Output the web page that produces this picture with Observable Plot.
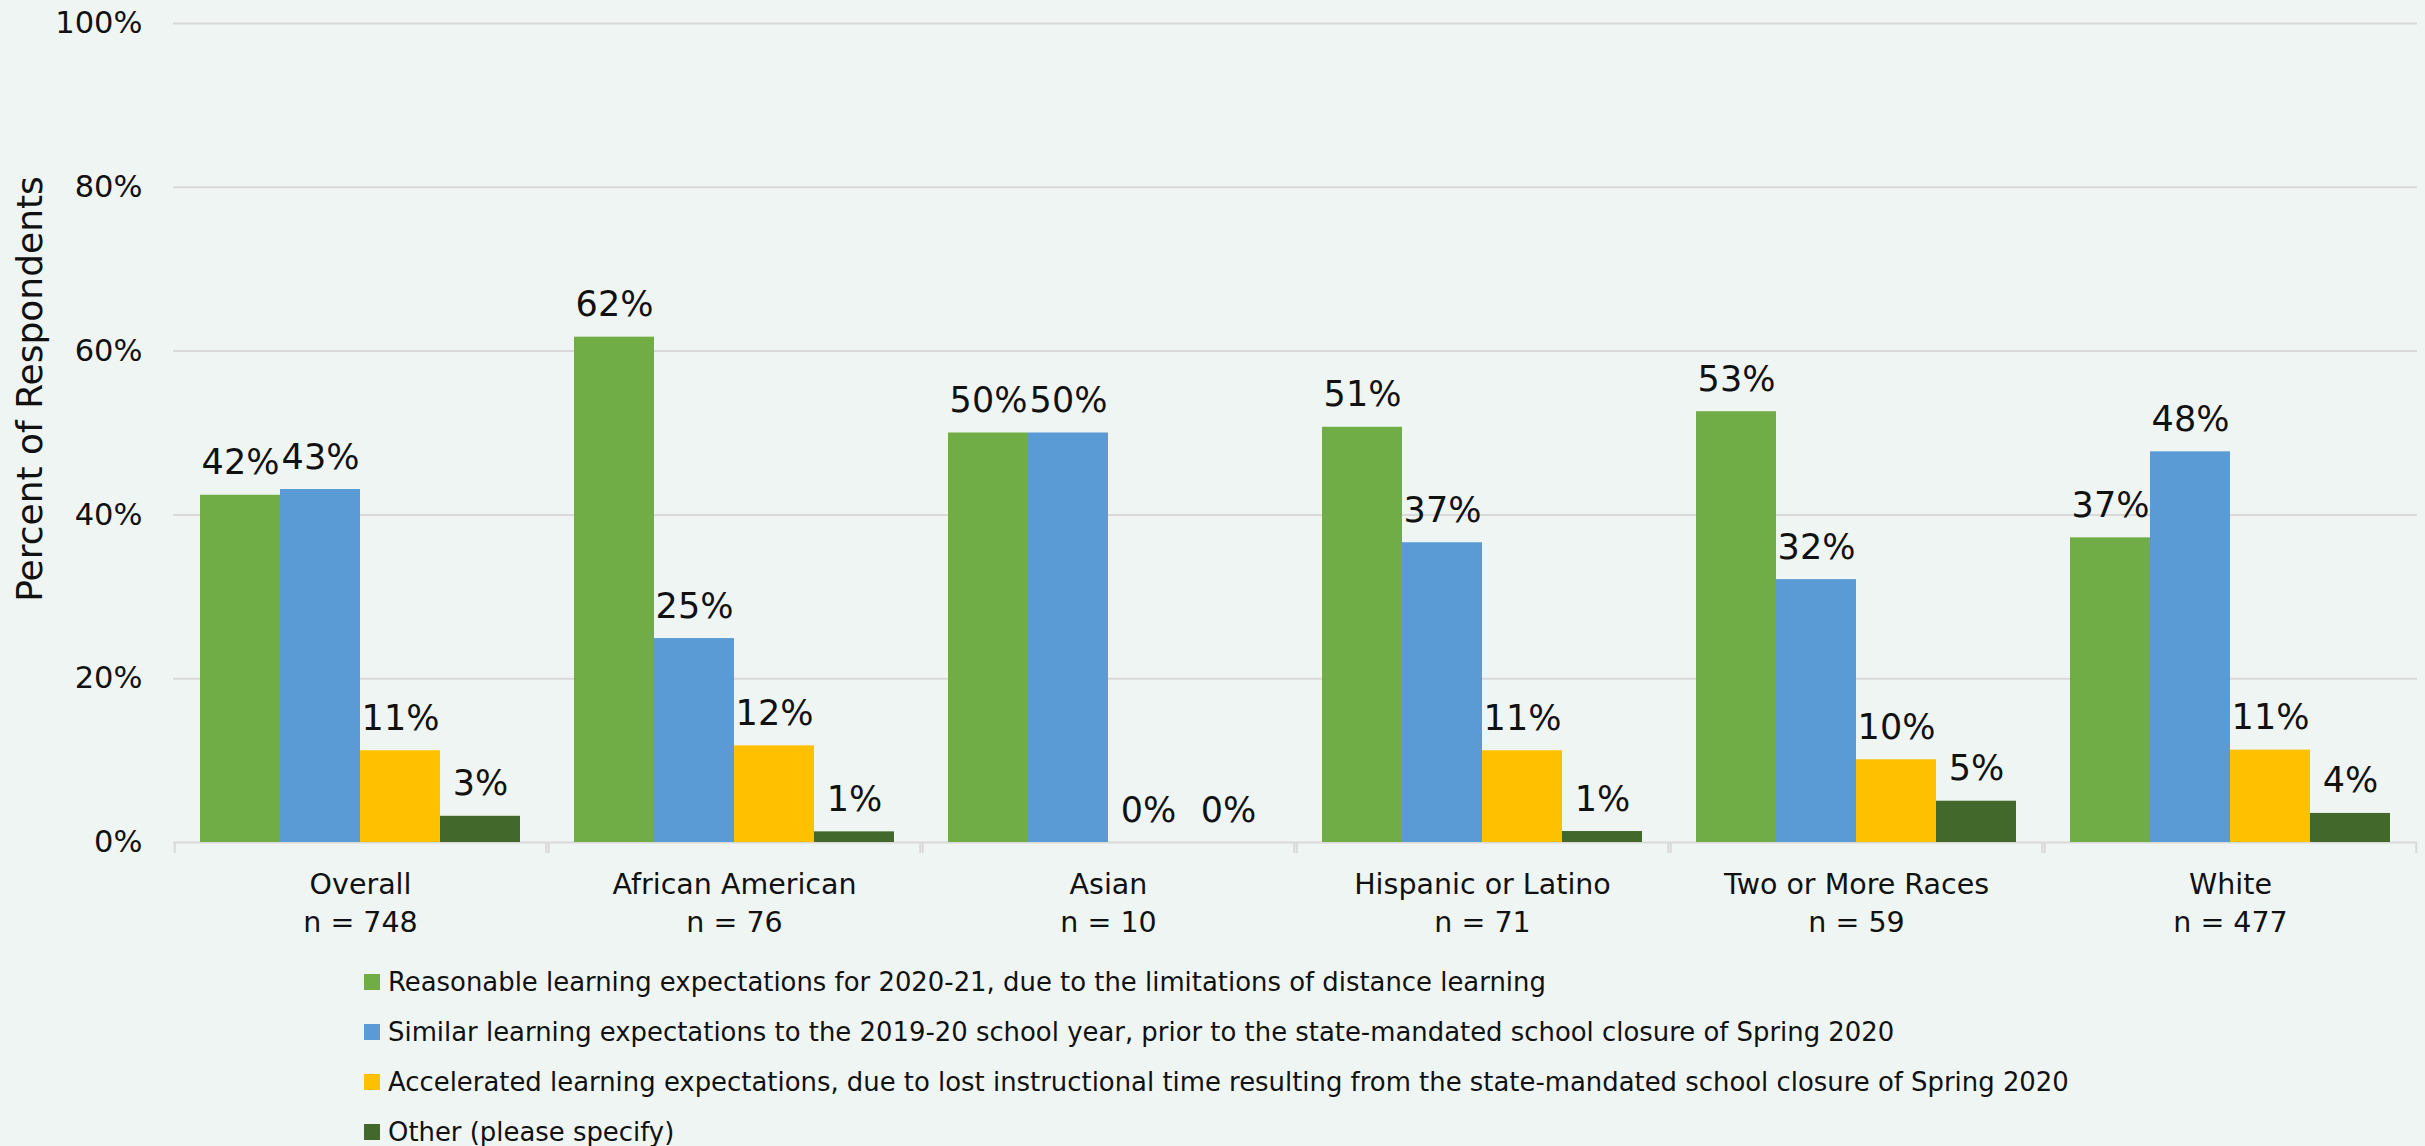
<!DOCTYPE html>
<html>
<head>
<meta charset="utf-8">
<script src="https://cdn.jsdelivr.net/npm/d3@7"></script>
<script src="https://cdn.jsdelivr.net/npm/@observablehq/plot@0.6"></script>
<style>
html, body { margin: 0; padding: 0; background: #eff5f2; overflow: hidden; width: 2425px; height: 1146px; }
#wrap { position: relative; width: 2425px; height: 1146px; font-family: "DejaVu Sans", sans-serif; color: #111; }
#chart svg { display: block; }
#ytitle { position: absolute; left: 29px; top: 389px; transform: translate(-50%, -50%) rotate(-90deg); font-size: 36px; white-space: nowrap; }
#legend { position: absolute; left: 364px; top: 957px; font-size: 25.9px; }
.row { height: 50px; display: flex; align-items: center; white-space: nowrap; }
.sw { width: 16px; height: 16px; margin-right: 8px; flex: none; }
</style>
</head>
<body>
<div id="wrap">
  <div id="chart"></div>
  <div id="ytitle">Percent of Respondents</div>
  <div id="legend"></div>
</div>
<script>
// ---- data ----
const categories = ["Overall", "African American", "Asian", "Hispanic or Latino", "Two or More Races", "White"];
const sampleSizes = [748, 76, 10, 71, 59, 477];
const seriesNames = [
  "Reasonable learning expectations for 2020-21, due to the limitations of distance learning",
  "Similar learning expectations to the 2019-20 school year, prior to the state-mandated school closure of Spring 2020",
  "Accelerated learning expectations, due to lost instructional time resulting from the state-mandated school closure of Spring 2020",
  "Other (please specify)"
];
const reasonable  = [0.424, 0.617, 0.500, 0.507, 0.526, 0.372];
const similar     = [0.431, 0.249, 0.500, 0.366, 0.321, 0.477];
const accelerated = [0.112, 0.118, 0.000, 0.112, 0.101, 0.1128];
const other       = [0.032, 0.013, 0.000, 0.0134, 0.0504, 0.0355];
const yTicks = [0, 0.2, 0.4, 0.6, 0.8, 1.0];
const colors = ["#70AD47", "#5B9BD5", "#FFC000", "#43682B"];

const seriesValues = [reasonable, similar, accelerated, other];
const table = categories.flatMap((c, i) =>
  seriesNames.map((s, j) => ({category: c, series: s, value: seriesValues[j][i]})));
const nByCat = new Map(categories.map((c, i) => [c, sampleSizes[i]]));

// ---- layout ----
const W = 2425, H = 957, mL = 171, mR = 7, mT = 23, mB = 115;
const xPadOuter = 0.312;
const fxStep = (W - mL - mR) / categories.length;
const xStep = fxStep / (seriesNames.length + 2 * xPadOuter);
const edgeOffset = xPadOuter * xStep + xStep / 2;
const pct = d3.format(".0%");
const gridColor = "#d9d9d9";

const chart = Plot.plot({
  width: W, height: H,
  marginLeft: mL, marginRight: mR, marginTop: mT, marginBottom: mB,
  style: {background: "transparent", fontFamily: "'DejaVu Sans', sans-serif", color: "#111"},
  fx: {domain: categories, padding: 0, label: null},
  x: {domain: seriesNames, paddingInner: 0, paddingOuter: xPadOuter, axis: null},
  y: {domain: [0, 1]},
  color: {domain: seriesNames, range: colors},
  marks: [
    Plot.gridY(yTicks.slice(1), {stroke: gridColor, strokeOpacity: 1, strokeWidth: 2}),
    Plot.ruleY([0], {stroke: gridColor, strokeWidth: 2}),
    Plot.ruleX([seriesNames[0]], {x: d => d, dx: -edgeOffset, y1: 0, y2: 0, insetBottom: -11, stroke: gridColor, strokeWidth: 2}),
    Plot.ruleX([seriesNames[seriesNames.length - 1]], {x: d => d, dx: edgeOffset, y1: 0, y2: 0, insetBottom: -11, stroke: gridColor, strokeWidth: 2}),
    Plot.barY(table, {fx: "category", x: "series", y: "value", fill: "series"}),
    Plot.text(table, {fx: "category", x: "series", y: "value", text: d => pct(d.value),
      lineAnchor: "bottom", dy: -21, fontSize: 35, fill: "#111"}),
    Plot.axisY({ticks: yTicks, tickFormat: pct, tickSize: 0, tickPadding: 31, fontSize: 30.5, label: null}),
    Plot.axisFx({anchor: "bottom", tickSize: 0, tickPadding: 25, fontSize: 28.5, lineHeight: 1.32,
      tickFormat: d => `${d}\nn = ${nByCat.get(d)}`, label: null})
  ]
});
document.getElementById("chart").append(chart);

// ---- legend ----
const legend = d3.select("#legend");
seriesNames.forEach((s, i) => {
  const row = legend.append("div").attr("class", "row");
  row.append("div").attr("class", "sw").style("background", colors[i]);
  row.append("span").text(s);
});
</script>
</body>
</html>
